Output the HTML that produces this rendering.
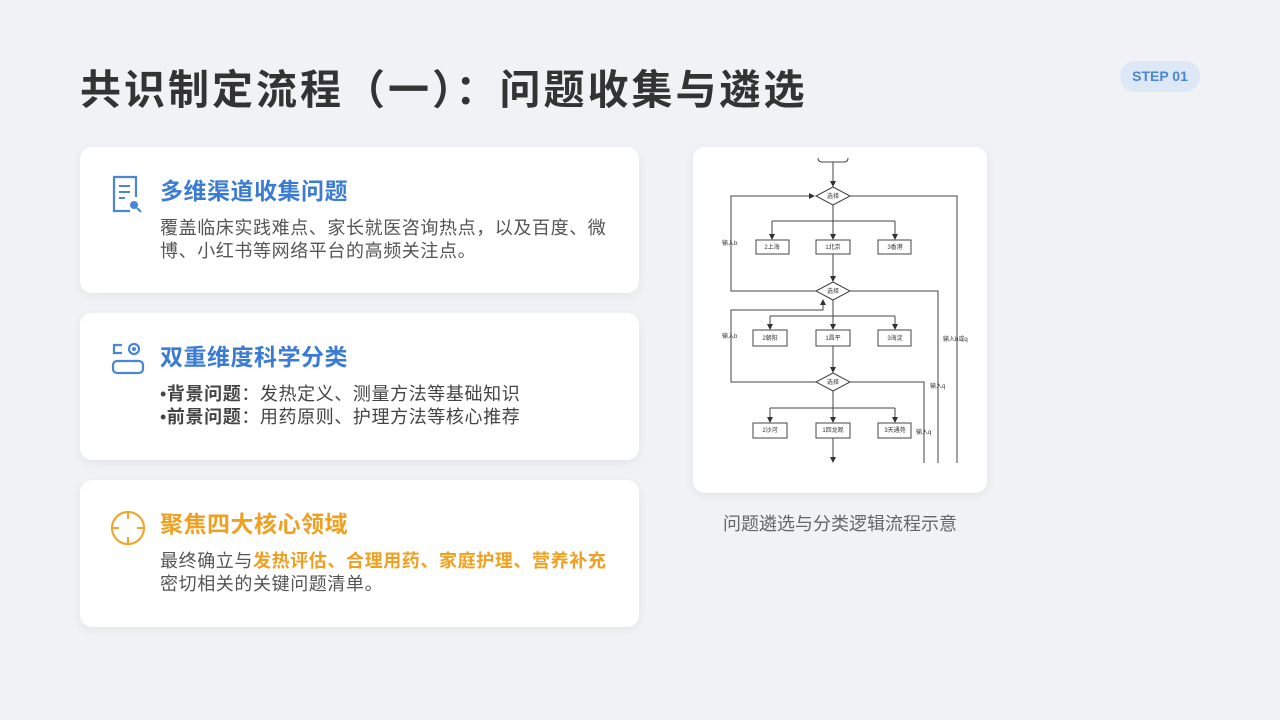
<!DOCTYPE html>
<html><head><meta charset="utf-8"><style>
body{margin:0;width:1280px;height:720px;background:#f0f2f6;font-family:"Liberation Sans","Noto Sans CJK SC",sans-serif;position:relative;overflow:hidden}
.t{position:absolute;left:80px;top:56px;font-size:41px;font-weight:bold;color:#333;letter-spacing:3px;white-space:nowrap}
.step{position:absolute;left:1120px;top:61px;width:80px;height:31px;border-radius:16px;background:#dde8f7;color:#4a86d8;font-size:14px;font-weight:bold;text-align:center;line-height:31px}
.card{position:absolute;left:80px;width:559px;background:#fff;border-radius:12px;box-shadow:0 3px 10px rgba(0,0,0,0.06)}
.h{position:absolute;left:80px;top:25px;font-size:23px;font-weight:bold;color:#3a7bd5;letter-spacing:0.5px}
.b{position:absolute;left:80px;top:70px;font-size:18px;color:#555;line-height:23px;width:462px;letter-spacing:0.6px}
.ic{position:absolute;left:30px;top:28px}
.fc{position:absolute;left:693px;top:147px;width:294px;height:346px;background:#fff;border-radius:12px;box-shadow:0 3px 10px rgba(0,0,0,0.06)}
.cap{position:absolute;left:693px;width:294px;top:510px;text-align:center;font-size:18px;color:#666}
</style></head><body>
<div class="t">共识制定流程（一）：问题收集与遴选</div>
<div class="step">STEP 01</div>

<div class="card" style="top:147px;height:146px">
<svg class="ic" width="36" height="40" viewBox="0 0 36 40"><path d="M20 36H4V2h22v20" fill="none" stroke="#4a86d8" stroke-width="2.2"/><line x1="9" y1="11" x2="20" y2="11" stroke="#4a86d8" stroke-width="2"/><line x1="9" y1="17" x2="20" y2="17" stroke="#4a86d8" stroke-width="2"/><line x1="9" y1="23" x2="15" y2="23" stroke="#4a86d8" stroke-width="2"/><circle cx="24" cy="30" r="4" fill="#4a86d8"/><line x1="27" y1="33" x2="31" y2="37" stroke="#4a86d8" stroke-width="2"/></svg>
<div class="h">多维渠道收集问题</div>
<div class="b">覆盖临床实践难点、家长就医咨询热点，以及百度、微博、小红书等网络平台的高频关注点。</div>
</div>

<div class="card" style="top:313px;height:147px">
<svg class="ic" width="36" height="40" viewBox="0 0 36 40"><path d="M12 4H4v8h8" fill="none" stroke="#4a86d8" stroke-width="2.2"/><circle cx="24" cy="8" r="5" fill="none" stroke="#4a86d8" stroke-width="2.2"/><circle cx="24" cy="8" r="2" fill="#4a86d8"/><rect x="3" y="20" width="30" height="12" rx="4" fill="none" stroke="#4a86d8" stroke-width="2.2"/></svg>
<div class="h">双重维度科学分类</div>
<div class="b" style="color:#444">•<b>背景问题</b>：发热定义、测量方法等基础知识<br>•<b>前景问题</b>：用药原则、护理方法等核心推荐</div>
</div>

<div class="card" style="top:480px;height:147px">
<svg class="ic" width="40" height="40" viewBox="0 0 40 40" style="top:28px"><circle cx="18" cy="20" r="16" fill="none" stroke="#f0a830" stroke-width="2.2"/><line x1="18" y1="4" x2="18" y2="11" stroke="#f0a830" stroke-width="2"/><line x1="18" y1="29" x2="18" y2="36" stroke="#f0a830" stroke-width="2"/><line x1="2" y1="20" x2="9" y2="20" stroke="#f0a830" stroke-width="2"/><line x1="27" y1="20" x2="34" y2="20" stroke="#f0a830" stroke-width="2"/></svg>
<div class="h" style="color:#f0a020">聚焦四大核心领域</div>
<div class="b">最终确立与<b style="color:#f0a020">发热评估、合理用药、家庭护理、营养补充</b><br>密切相关的关键问题清单。</div>
</div>

<div class="fc"></div>
<svg style="position:absolute;left:0;top:0" width="1280" height="720" font-size="6" font-family="Liberation Sans,Noto Sans CJK SC,sans-serif" fill="#333">
<defs><marker id="a" markerWidth="6" markerHeight="6" refX="5" refY="3" orient="auto"><path d="M0,0L6,3L0,6z" fill="#333"/></marker></defs>
<g stroke="#444" stroke-width="1" fill="none">
<path d="M818 158q0 4 4 4h22q4 0 4-4"/>
<line x1="833" y1="162" x2="833" y2="186" marker-end="url(#a)"/>
<path d="M816 196L833 187L850 196L833 205z" fill="#fff"/>
<path d="M850 196H957V463"/>
<path d="M816 291H731V196H814" marker-end="url(#a)"/>
<line x1="833" y1="205" x2="833" y2="221"/>
<line x1="772" y1="221" x2="895" y2="221"/>
<line x1="772" y1="221" x2="772" y2="239" marker-end="url(#a)"/>
<line x1="833" y1="221" x2="833" y2="239" marker-end="url(#a)"/>
<line x1="895" y1="221" x2="895" y2="239" marker-end="url(#a)"/>
<rect x="756" y="240" width="33" height="14" fill="#fff"/><rect x="816" y="240" width="34" height="14" fill="#fff"/><rect x="878" y="240" width="33" height="14" fill="#fff"/>
<line x1="833" y1="254" x2="833" y2="281" marker-end="url(#a)"/>
<path d="M816 291L833 282L850 291L833 300z" fill="#fff"/>
<path d="M850 291H938V463"/>
<line x1="833" y1="300" x2="833" y2="316"/>
<line x1="770" y1="316" x2="895" y2="316"/>
<line x1="770" y1="316" x2="770" y2="329" marker-end="url(#a)"/>
<line x1="833" y1="316" x2="833" y2="329" marker-end="url(#a)"/>
<line x1="895" y1="316" x2="895" y2="329" marker-end="url(#a)"/>
<rect x="753" y="330" width="34" height="16" fill="#fff"/><rect x="816" y="330" width="34" height="16" fill="#fff"/><rect x="878" y="330" width="33" height="16" fill="#fff"/>
<line x1="833" y1="346" x2="833" y2="372" marker-end="url(#a)"/>
<path d="M816 382H731V310H823V300" marker-end="url(#a)"/>
<path d="M816 382L833 373L850 382L833 391z" fill="#fff"/>
<path d="M850 382H924V463"/>
<line x1="833" y1="391" x2="833" y2="408"/>
<line x1="770" y1="408" x2="895" y2="408"/>
<line x1="770" y1="408" x2="770" y2="422" marker-end="url(#a)"/>
<line x1="833" y1="408" x2="833" y2="422" marker-end="url(#a)"/>
<line x1="895" y1="408" x2="895" y2="422" marker-end="url(#a)"/>
<rect x="753" y="423" width="34" height="15" fill="#fff"/><rect x="816" y="423" width="34" height="15" fill="#fff"/><rect x="878" y="423" width="33" height="15" fill="#fff"/>
<line x1="833" y1="438" x2="833" y2="462" marker-end="url(#a)"/>
</g>
<g text-anchor="middle">
<text x="833" y="198">选择</text><text x="833" y="293">选择</text><text x="833" y="384">选择</text>
<text x="772" y="249">2上海</text><text x="833" y="249">1北京</text><text x="895" y="249">3香港</text>
<text x="770" y="340">2朝阳</text><text x="833" y="340">1昌平</text><text x="895" y="340">3海淀</text>
<text x="770" y="432">2沙河</text><text x="833" y="432">1回龙观</text><text x="895" y="432">3天通苑</text>
</g>
<text x="722" y="245">输入b</text><text x="722" y="338">输入b</text>
<text x="943" y="341">输入b或q</text><text x="930" y="388">输入q</text><text x="916" y="434">输入q</text>
</svg>
<div class="cap">问题遴选与分类逻辑流程示意</div>
</body></html>
